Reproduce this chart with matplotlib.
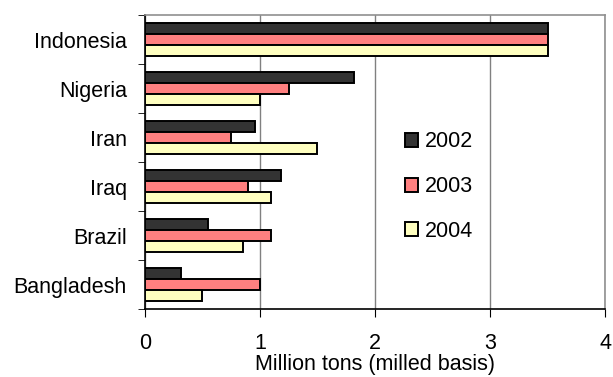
import matplotlib
matplotlib.use("Agg")
import matplotlib.pyplot as plt
import numpy as np

countries = ["Indonesia", "Nigeria", "Iran", "Iraq", "Brazil", "Bangladesh"]
years = ["2002", "2003", "2004"]
imports_2002 = [3.5, 1.82, 0.96, 1.18, 0.55, 0.31]
imports_2003 = [3.5, 1.25, 0.75, 0.90, 1.10, 1.00]
imports_2004 = [3.5, 1.00, 1.50, 1.10, 0.85, 0.50]
colors = ["#333333", "#FF8080", "#FFFFC0"]

plt.rcParams["font.family"] = ["Liberation Sans", "DejaVu Sans"]
plt.rcParams["font.size"] = 15.5

fig = plt.figure(figsize=(6.13, 3.77), dpi=100)
ax = fig.add_axes([0.2365, 0.180, 0.7505, 0.780])

y = np.arange(len(countries))
h = 0.225
for k, (vals, year) in enumerate(zip([imports_2002, imports_2003, imports_2004], years)):
    ax.barh(y + (k - 1) * h, vals, height=h, color=colors[k], edgecolor="black",
            linewidth=1.4, label=year, zorder=3)

ax.set_xlim(0, 4)
ax.set_ylim(len(countries) - 0.5, -0.5)
ax.set_xticks([0, 1, 2, 3, 4])
ax.set_yticks(y)
ax.set_yticklabels(countries)
ax.set_yticks(np.arange(-0.5, len(countries)), minor=True)
ax.tick_params(axis="y", which="major", length=0, pad=13)
ax.tick_params(axis="y", which="minor", length=5, direction="out", color="black")
ax.tick_params(axis="x", length=6, direction="out", pad=11, color="black")
ax.xaxis.grid(True, color="#808080", linewidth=1.0, zorder=0)
ax.set_xlabel("Million tons (milled basis)", labelpad=0)

for side in ["top", "right"]:
    ax.spines[side].set_color("#909090")
ax.spines["left"].set_color("black")
ax.spines["bottom"].set_color("black")
for sp in ax.spines.values():
    sp.set_linewidth(1.2)

ax.legend(loc="center", bbox_to_anchor=(0.716, 0.505), bbox_transform=fig.transFigure,
          frameon=False, handlelength=0.62, handleheight=0.62, handletextpad=0.3,
          labelspacing=1.1, borderpad=0)

fig.savefig("out.png", dpi=100)
